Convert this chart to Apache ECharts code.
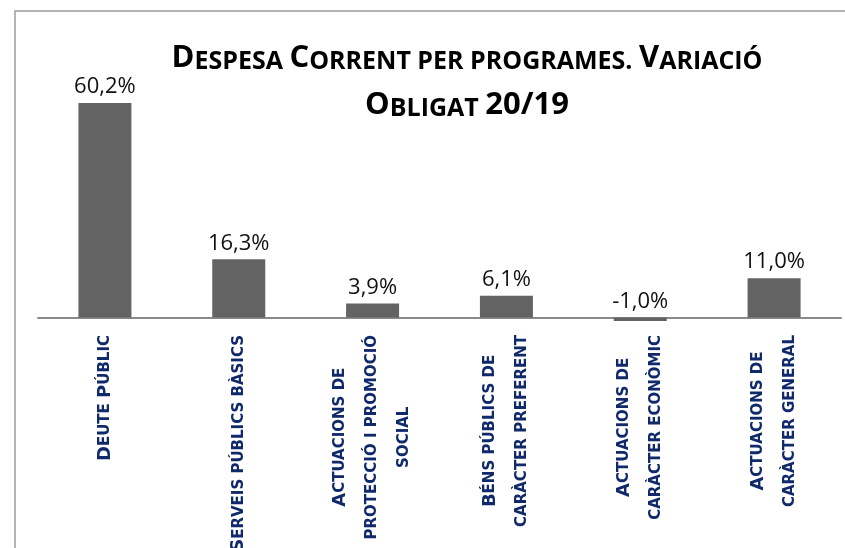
<!DOCTYPE html>
<html lang="ca" style="height: 100%">
<head>
    <meta charset="utf-8">
</head>
<body style="height: 100%; margin: 0; background: #fff">
    <div id="container" style="height: 100%"></div>

    <script type="text/javascript" src="https://cdn.jsdelivr.net/npm/echarts@6/dist/echarts.min.js"></script>
    <script type="text/javascript">
        // dades
        var titol = 'Despesa Corrent per programes. Variació\nObligat 20/19';
        var programes = [
            'Deute Públic',
            'Serveis públics bàsics',
            'Actuacions de\nprotecció i promoció\nsocial',
            'Béns públics de\ncaràcter preferent',
            'Actuacions de\ncaràcter econòmic',
            'Actuacions de\ncaràcter general'
        ];
        var variacio = [60.2, 16.3, 3.9, 6.1, -1.0, 11.0];

        // versaletes: majúscules i xifres grans, minúscules petites
        function versaletes(text) {
            return text.split('\n').map(function (linia) {
                var out = '', run = '', tipus = null;
                for (var i = 0; i < linia.length; i++) {
                    var ch = linia[i];
                    var gran = (ch !== ch.toLowerCase()) || /[0-9\/]/.test(ch);
                    var t = gran ? 'b' : 's';
                    if (tipus !== null && t !== tipus) {
                        out += '{' + tipus + '|' + run + '}';
                        run = '';
                    }
                    tipus = t;
                    run += ch.toUpperCase();
                }
                if (run) out += '{' + tipus + '|' + run + '}';
                return out;
            }).join('\n');
        }

        var dom = document.getElementById('container');
        var myChart = echarts.init(dom, null, { renderer: 'canvas' });

        var blau = '#10296b';

        var option = {
            animation: false,
            graphic: [{
                type: 'rect',
                shape: { x: 15, y: 11, width: 900, height: 700 },
                style: { fill: 'none', stroke: '#9c9c9c', lineWidth: 1.5 },
                silent: true
            }],
            title: {
                text: versaletes(titol),
                left: 467,
                top: 27,
                textAlign: 'center',
                padding: 0,
                textStyle: {
                    rich: {
                        b: { fontFamily: 'Open Sans', fontWeight: 'bold', fontSize: 31, color: '#000', align: 'center', verticalAlign: 'bottom', lineHeight: 47 },
                        s: { fontFamily: 'Open Sans', fontWeight: 'bold', fontSize: 25, color: '#000', align: 'center', verticalAlign: 'bottom', lineHeight: 45 }
                    }
                }
            },
            grid: {
                left: 38,
                right: 4,
                top: 68,
                bottom: 195,
                outerBoundsMode: 'none',
                containLabel: false
            },
            xAxis: {
                type: 'category',
                data: programes,
                axisTick: { show: false },
                axisLine: { onZero: true, lineStyle: { color: '#8a8a8a', width: 2 } },
                axisLabel: {
                    interval: 0,
                    rotate: 90,
                    margin: -18,
                    formatter: function (v) { return versaletes(v); },
                    rich: {
                        b: { fontFamily: 'DejaVu Sans', fontWeight: 'bold', fontSize: 18, color: blau, align: 'center', verticalAlign: 'middle', lineHeight: 32 },
                        s: { fontFamily: 'DejaVu Sans', fontWeight: 'bold', fontSize: 15, color: blau, align: 'center', verticalAlign: 'middle', lineHeight: 32 }
                    }
                }
            },
            yAxis: {
                type: 'value',
                min: -10,
                max: 70,
                show: false
            },
            series: [{
                type: 'bar',
                data: variacio,
                barWidth: 53,
                itemStyle: { color: '#636363' },
                label: {
                    show: true,
                    position: 'top',
                    distance: 5,
                    fontFamily: 'Open Sans',
                    fontSize: 22,
                    color: '#111',
                    formatter: function (p) {
                        return p.value.toFixed(1).replace('.', ',') + '%';
                    }
                }
            }]
        };

        myChart.setOption(option);
        window.addEventListener('resize', myChart.resize);
    </script>
</body>
</html>
